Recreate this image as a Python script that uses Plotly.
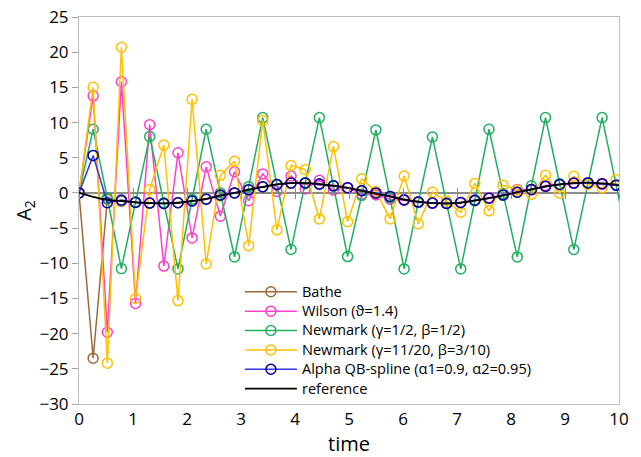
import plotly.graph_objects as go

time = [0, 0.262, 0.524, 0.785, 1.047, 1.309, 1.571, 1.833, 2.094, 2.356,
        2.618, 2.880, 3.142, 3.403, 3.665, 3.927, 4.189, 4.451, 4.712, 4.974,
        5.236, 5.498, 5.760, 6.021, 6.283, 6.545, 6.807, 7.069, 7.330, 7.592,
        7.854, 8.116, 8.378, 8.639, 8.901, 9.163, 9.425, 9.687, 9.948, 10.210]

bathe = [0, -23.5, -0.9, -1.2, -1.3, -1.45, -1.5, -1.4, -1.15, -0.85,
         -0.4, 0.0, 0.45, 0.85, 1.2, 1.4, 1.4, 1.25, 1.0, 0.7,
         0.3, -0.1, -0.5, -0.95, -1.25, -1.45, -1.5, -1.4, -1.1, -0.75,
         -0.35, 0.1, 0.5, 0.9, 1.2, 1.4, 1.45, 1.35, 1.15, 0.75]

wilson = [0, 13.8, -19.8, 15.8, -15.7, 9.7, -10.4, 5.7, -6.4, 3.7,
          -3.3, 3.0, -1.1, 2.7, 0.2, 2.4, 0.55, 1.8, 0.4, 0.75,
          -0.2, -0.3, -0.9, -1.05, -1.35, -1.45, -1.45, -1.35, -1.0, -0.7,
          -0.3, 0.5, 0.4, 1.05, 1.2, 1.35, 1.45, 1.2, 1.1, 0.8]

newmark1 = [0, 9.05, -0.7, -10.76, -1.3, 8.0, -1.4, -10.8, -0.9, 9.05,
            0.0, -9.1, 0.9, 10.7, 1.2, -8.05, 1.4, 10.7, 1.0, -9.05,
            -0.35, 8.95, -0.7, -10.8, -1.3, 7.95, -1.5, -10.8, -1.1, 9.05,
            -0.1, -9.1, 1.0, 10.7, 1.3, -8.05, 1.4, 10.7, 1.1, -9.1]

newmark2 = [0, 15.0, -24.2, 20.7, -15.0, 0.5, 6.8, -15.3, 13.3, -10.1,
            2.5, 4.5, -7.5, 10.3, -5.25, 3.9, 3.3, -3.7, 6.6, -4.1,
            2.0, 0.2, -3.7, 2.4, -4.4, 0.1, -1.15, -2.75, 1.35, -2.55,
            1.1, 0.4, -0.2, 2.5, -0.05, 2.35, 1.2, 0.7, 1.9, 1.0]

alpha = [0, 5.33, -1.4, -1.0, -1.35, -1.45, -1.5, -1.4, -1.15, -0.9,
         -0.3, 0.0, 0.45, 0.88, 1.2, 1.4, 1.42, 1.25, 1.0, 0.75,
         0.3, 0.0, -0.5, -1.0, -1.3, -1.45, -1.5, -1.35, -1.05, -0.75,
         -0.3, 0.1, 0.5, 0.95, 1.2, 1.4, 1.42, 1.3, 1.1, 0.7]

reference = [0, -0.55, -1.0, -1.15, -1.35, -1.45, -1.5, -1.4, -1.15, -0.85,
             -0.4, 0.0, 0.45, 0.85, 1.2, 1.4, 1.4, 1.25, 1.0, 0.7,
             0.3, -0.1, -0.5, -0.95, -1.25, -1.45, -1.5, -1.4, -1.1, -0.75,
             -0.35, 0.1, 0.5, 0.9, 1.2, 1.4, 1.45, 1.35, 1.15, 0.75]

names = ["Bathe", "Wilson (ϑ=1.4)", "Newmark (γ=1/2, β=1/2)",
         "Newmark (γ=11/20, β=3/10)", "Alpha QB-spline (α1=0.9, α2=0.95)", "reference"]

FONT = "Open Sans"
LEG_TXT = '<span style="font-size:14.6px">{}</span>'
fig = go.Figure()

series = [
    (bathe, "#9C6A3A", "#9C6A3A"),
    (wilson, "#FF40C8", "#FF40C8"),
    (newmark1, "#1FAF5F", "#1FAF5F"),
    (newmark2, "#FFC000", "#FFC000"),
    (alpha, "#3535E0", "#0000A8"),
]
for (vals, lc, mc), nm in zip(series, names[:5]):
    fig.add_trace(go.Scatter(
        x=time, y=vals, name=LEG_TXT.format(nm), mode="lines+markers",
        line=dict(color=lc, width=1.5),
        marker=dict(symbol="circle-open", size=10, color=mc, line=dict(width=1.5)),
        cliponaxis=True,
    ))

fig.add_trace(go.Scatter(
    x=time, y=reference, name=LEG_TXT.format(names[5]), mode="lines",
    line=dict(color="#000000", width=1.8, shape="spline"),
))

# helper traces for tick marks crossing the zero line
for ax in ["x2", "x3"]:
    fig.add_trace(go.Scatter(x=[None], y=[None], xaxis=ax, showlegend=False, hoverinfo="skip"))

zero_pos = 30 / 55

fig.update_layout(
    width=641, height=457,
    margin=dict(l=79, r=22, t=17, b=53),
    paper_bgcolor="white", plot_bgcolor="white",
    font=dict(family=FONT, color="#000000"),
    showlegend=True,
    legend=dict(
        x=0.298, y=0.328, xanchor="left", yanchor="top",
        bgcolor="rgba(0,0,0,0)", font=dict(size=12.6, family=FONT),
        tracegroupgap=0, itemwidth=52,
    ),
    xaxis=dict(
        range=[0, 10], dtick=1, tick0=0, showgrid=False, zeroline=False,
        showline=True, mirror=True, linecolor="#BFBFBF", linewidth=1,
        ticks="", tickfont=dict(size=17), ticklabelstandoff=0,
        title=dict(text="time", font=dict(size=20), standoff=12),
        automargin=False,
    ),
    xaxis2=dict(
        range=[0, 10], dtick=1, tick0=0, overlaying="x", anchor="free", position=zero_pos,
        showgrid=False, zeroline=False, showline=False, showticklabels=False,
        ticks="inside", ticklen=5, tickcolor="#8C8C8C", tickwidth=1,
    ),
    xaxis3=dict(
        range=[0, 10], dtick=1, tick0=0, overlaying="x", anchor="free", position=zero_pos,
        showgrid=False, zeroline=False, showline=False, showticklabels=False,
        ticks="outside", ticklen=5, tickcolor="#8C8C8C", tickwidth=1,
    ),
    yaxis=dict(
        range=[-30, 25], dtick=5, tick0=0, showgrid=False,
        zeroline=True, zerolinecolor="#8C8C8C", zerolinewidth=1.5,
        showline=True, mirror=True, linecolor="#BFBFBF", linewidth=1,
        ticks="outside", ticklen=6, tickcolor="#A6A6A6",
        tickfont=dict(size=17),
        title=dict(text="A<sub>2</sub>", font=dict(size=20), standoff=2),
        automargin=False,
    ),
)

fig.write_html("out.html")
